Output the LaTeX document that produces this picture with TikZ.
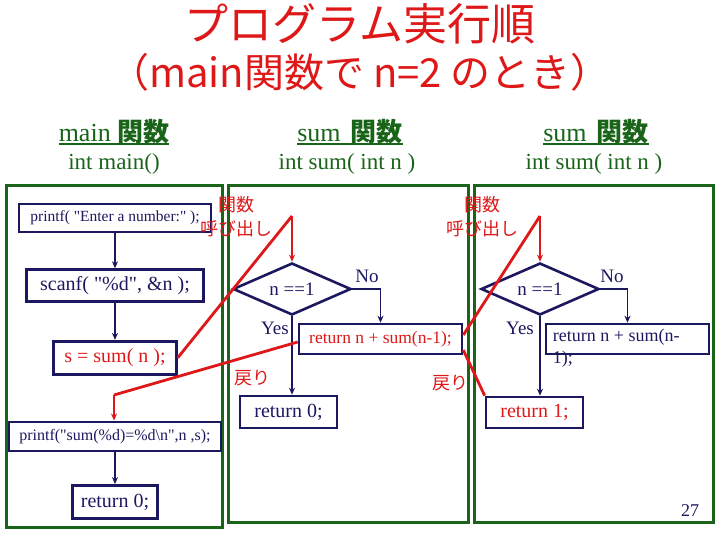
\documentclass[tikz,border=0pt]{standalone}
\usepackage{fontspec}
\setmainfont{Liberation Serif}
\newfontfamily\jp{Noto Sans CJK JP}
\usepackage{tikz}
\usetikzlibrary{shapes.geometric, arrows.meta, positioning}
\definecolor{framegreen}{RGB}{25,100,25}
\definecolor{boxnavy}{RGB}{28,24,96}
\definecolor{callred}{RGB}{222,24,24}

\begin{document}
\begin{tikzpicture}[x=1pt, y=-1pt,
  box/.style={draw=boxnavy, line width=2.6pt, inner sep=0pt, text=boxnavy, font=\fontsize{20}{24}\selectfont},
  cond/.style={diamond, aspect=2.3, draw=boxnavy, line width=2.6pt, inner sep=0pt, minimum width=118pt, minimum height=52pt, text=boxnavy, font=\fontsize{19}{22}\selectfont},
  arrow/.style={-{Stealth[length=7pt, width=6pt]}, line width=1.6pt, draw=boxnavy},
  call/.style={line width=2.8pt, draw=callred},
  callarrow/.style={-{Stealth[length=7pt, width=6pt]}, line width=1.6pt, draw=callred},
  panel/.style={draw=framegreen, line width=3pt},
  head/.style={font=\fontsize{26}{30}\selectfont, text=framegreen, inner sep=0pt, anchor=base},
  sig/.style={font=\fontsize{23}{27}\selectfont, text=framegreen, inner sep=0pt, anchor=base},
  note/.style={font=\jp\fontsize{18}{24}\selectfont, text=callred, align=center, inner sep=0pt},
  yn/.style={font=\fontsize{19}{22}\selectfont, text=boxnavy, inner sep=0pt}
]
\useasboundingbox (0,0) rectangle (720,540);

% Title
\node[font=\jp\fontsize{44}{50}\selectfont, text=callred] (title) at (360,24) {プログラム実行順};
\node[font=\jp\fontsize{40}{46}\selectfont, text=callred] (subtitle) at (360,72) {（main関数で n=2 のとき）};

% Column headings
\node[head] (hmain) at (114,142) {main {\jp\bfseries 関数}};
\node[sig] (smain) at (114,170) {int main()};
\node[head] (hsumA) at (350,142) {sum\hspace{10pt}{\jp\bfseries 関数}};
\node[sig] (ssumA) at (347,170) {int sum( int n )};
\node[head] (hsumB) at (596,142) {sum\hspace{10pt}{\jp\bfseries 関数}};
\node[sig] (ssumB) at (594,170) {int sum( int n )};
\draw[framegreen, line width=1.6pt] ([yshift=-2pt]hmain.base west) -- ([yshift=-2pt]hmain.base east);
\draw[framegreen, line width=1.6pt] ([yshift=-2pt]hsumA.base west) -- ([yshift=-2pt]hsumA.base east);
\draw[framegreen, line width=1.6pt] ([yshift=-2pt]hsumB.base west) -- ([yshift=-2pt]hsumB.base east);

% Function frames
\draw[panel] (6,186) rectangle (222,527);
\draw[panel] (228,186) rectangle (468,522);
\draw[panel] (474,186) rectangle (713,522);

% main function
\node[box, font=\fontsize{15.5}{18}\selectfont, minimum width=192pt, minimum height=28pt] (prompt) at (115,218) {printf( \textquotedbl Enter a number:\textquotedbl\ );};
\node[box, minimum width=177pt, minimum height=32pt, below=35pt of prompt] (scan) {scanf( \textquotedbl\%d\textquotedbl, \&n );};
\node[box, text=callred, minimum width=123pt, minimum height=33pt, below=37pt of scan] (callsum) {s = sum( n );};
\node[box, font=\fontsize{16}{19}\selectfont, minimum width=212pt, minimum height=29pt, below=45pt of callsum] (show) {printf(\textquotedbl sum(\%d)=\%d\textbackslash n\textquotedbl,n ,s);};
\node[box, minimum width=85pt, minimum height=33pt, below=32pt of show] (retmain) {return 0;};

% sum function (first call)
\node[cond] (testA) at (292,289) {n ==1};
\node[box, text=callred, font=\fontsize{17.5}{21}\selectfont, minimum width=163pt, minimum height=30pt] (recA) at (380.5,339) {return n + sum(n-1);};
\node[box, minimum width=97pt, minimum height=32pt] (retA) at (288.5,412) {return 0;};

% sum function (second call)
\node[cond] (testB) at (540,289) {n ==1};
\node[box, minimum width=163pt, minimum height=30pt,
  label={[anchor=north west, align=left, text=boxnavy, font=\fontsize{18}{22}\selectfont, inner sep=0pt, xshift=8pt, yshift=-6pt]north west:return n + sum(n-\\1);}] (recB) at (627.5,339) {};
\node[box, text=callred, minimum width=97pt, minimum height=31pt] (retB) at (534.5,412.5) {return 1;};

% Flow arrows
\draw[arrow] (prompt) -- (scan);
\draw[arrow] (scan) -- (callsum);
\draw[arrow] (show) -- (retmain);
\draw[arrow] (testA.south) -- (testA.south |- retA.north);
\draw[arrow] (testA.east) -| (recA.north);
\draw[arrow] (testB.south) -- (testB.south |- retB.north);
\draw[arrow] (testB.east) -| (recB.north);

% Calls and returns
\coordinate (topA) at (292,216);
\coordinate (topB) at (540,216);
\coordinate (backA) at (114,395);
\draw[call] (callsum.east) -- (topA);
\draw[callarrow] (topA) -- (testA.north);
\draw[call] ([yshift=4pt]recA.east) -- (topB);
\draw[callarrow] (topB) -- (testB.north);
\draw[call] ([yshift=-3pt]recA.west) -- (backA);
\draw[callarrow] (backA) -- (backA |- show.north);
\draw[call] (retB.north west) -- ([yshift=-11pt]recA.east);

% Labels
\node[note] (callnoteA) at (236,217) {関数\\呼び出し};
\node[note] (callnoteB) at (482,217) {関数\\呼び出し};
\node[note] (backnoteA) at (252,378) {戻り};
\node[note] (backnoteB) at (450,383) {戻り};
\node[yn] (noA) at (367,276) {No};
\node[yn] (yesA) at (275,328) {Yes};
\node[yn] (noB) at (612,276) {No};
\node[yn] (yesB) at (520,328) {Yes};
\node[font=\fontsize{18}{20}\selectfont, text=boxnavy] (page) at (690,511) {27};
\end{tikzpicture}
\end{document}
